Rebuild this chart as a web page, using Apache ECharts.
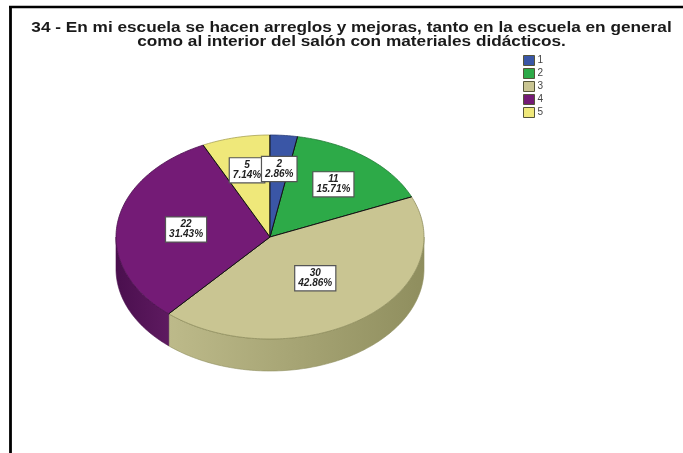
<!DOCTYPE html>
<html>
<head>
<meta charset="utf-8">
<script src="https://cdn.jsdelivr.net/npm/echarts@6/dist/echarts.min.js"></script>
<style>html,body{margin:0;padding:0;background:#fff}#c{width:683px;height:453px}</style>
</head>
<body>
<div id="c"></div>
<script>
var titleLines = ['34 - En mi escuela se hacen arreglos y mejoras, tanto en la escuela en general', 'como al interior del salón con materiales didácticos.'];
var categories = ['1', '2', '3', '4', '5'];
var counts = [2, 11, 30, 22, 5];
var percentLabels = ['2.86%', '15.71%', '42.86%', '31.43%', '7.14%'];

var topColors = ['#3A56A6', '#2DAA48', '#C9C592', '#741B76', '#EFE87A'];
var rimColors = ['#2A3E78', '#1F7A33', '#8F8E5E', '#4A0F4E', '#A8A255'];
var wallColors = [
  ['#2A3E78', '#2A3E78'],
  ['#1F7A33', '#1F7A33'],
  ['#BDBA8A', '#8F8E5E'],
  ['#4A0F4E', '#5E1A60'],
  ['#A8A255', '#A8A255']
];
var labelReach = [0.67, 0.66, 0.5, 0.55, 0.67];
var cx = 270, cy = 237, rx = 154, ry = 102, depth = 32;
var total = counts.reduce(function (a, b) { return a + b; }, 0);

function px(t) { return cx + rx * Math.sin(t); }
function py(t) { return cy - ry * Math.cos(t); }
function arc(a, b) {
  var pts = [], n = Math.max(2, Math.ceil((b - a) / 0.02));
  for (var i = 0; i <= n; i++) {
    var t = a + (b - a) * i / n;
    pts.push([px(t), py(t)]);
  }
  return pts;
}

function makeRender(idx) {
  return function (params, api) {
    var before = 0;
    for (var i = 0; i < idx; i++) before += counts[i];
    var v = api.value(0);
    var a = before / total * Math.PI * 2;
    var b = (before + v) / total * Math.PI * 2;
    var children = [];
    var wa = Math.max(a, Math.PI / 2), wb = Math.min(b, Math.PI * 1.5);
    if (wb > wa) {
      var upper = arc(wa, wb);
      var lower = upper.slice().reverse().map(function (p) { return [p[0], p[1] + depth]; });
      children.push({
        type: 'polygon',
        shape: { points: upper.concat(lower) },
        style: {
          fill: new echarts.graphic.LinearGradient(0, 0, 1, 0, [
            { offset: 0, color: wallColors[idx][0] },
            { offset: 1, color: wallColors[idx][1] }
          ]),
          stroke: rimColors[idx], lineWidth: 0.6
        }
      });
    }
    var rim = arc(a, b);
    children.push({
      type: 'polygon',
      shape: { points: [[cx, cy]].concat(rim) },
      style: { fill: topColors[idx] }
    });
    children.push({
      type: 'polyline',
      shape: { points: rim },
      style: { fill: null, stroke: rimColors[idx], lineWidth: 0.8 }
    });
    children.push({
      type: 'polyline',
      shape: { points: [rim[0], [cx, cy], rim[rim.length - 1]] },
      style: { fill: null, stroke: '#141414', lineWidth: 1 }
    });
    var m = (a + b) / 2, f = labelReach[idx];
    children.push({
      type: 'text',
      z2: 10,
      style: {
        x: cx + rx * f * Math.sin(m),
        y: cy - ry * f * Math.cos(m),
        text: v + '\n' + percentLabels[idx],
        align: 'center',
        verticalAlign: 'middle',
        font: 'italic bold 10px "Liberation Sans", Arial, sans-serif',
        lineHeight: 10,
        fill: '#222',
        backgroundColor: '#fff',
        borderColor: '#555',
        borderWidth: 1.2,
        padding: [2, 3, 2, 3]
      }
    });
    return { type: 'group', children: children };
  };
}

var series = categories.map(function (name, i) {
  return {
    type: 'custom',
    name: name,
    coordinateSystem: 'none',
    z: i === 0 ? 3 : 2,
    silent: true,
    animation: false,
    itemStyle: { color: topColors[i] },
    data: [[counts[i]]],
    renderItem: makeRender(i)
  };
});

var chart = echarts.init(document.getElementById('c'), null, { renderer: 'canvas' });
chart.setOption({
  animation: false,
  backgroundColor: '#fff',
  color: topColors,
  legend: {
    orient: 'vertical',
    left: 523,
    top: 55,
    padding: 0,
    itemWidth: 11,
    itemHeight: 10,
    itemGap: 2,
    icon: 'rect',
    selectedMode: false,
    data: categories,
    itemStyle: { borderColor: '#55553a', borderWidth: 1 },
    textStyle: { fontFamily: '"Liberation Sans", Arial, sans-serif', fontSize: 10, color: '#444', padding: [0, 0, 0, -2] }
  },
  graphic: [
    { type: 'line', silent: true, shape: { x1: 9, y1: 7, x2: 683, y2: 7 }, style: { stroke: '#000', lineWidth: 2.4 } },
    { type: 'line', silent: true, shape: { x1: 10.5, y1: 6, x2: 10.5, y2: 453 }, style: { stroke: '#000', lineWidth: 2.8 } },
    {
      type: 'text',
      silent: true,
      x: 351.5,
      y: 21,
      scaleX: 1.18,
      style: {
        text: titleLines.join('\n'),
        align: 'center',
        verticalAlign: 'top',
        font: 'bold 14.6px "Liberation Sans", Arial, sans-serif',
        lineHeight: 14,
        fill: '#1a1a1a'
      }
    }
  ],
  series: series
});
</script>
</body>
</html>
